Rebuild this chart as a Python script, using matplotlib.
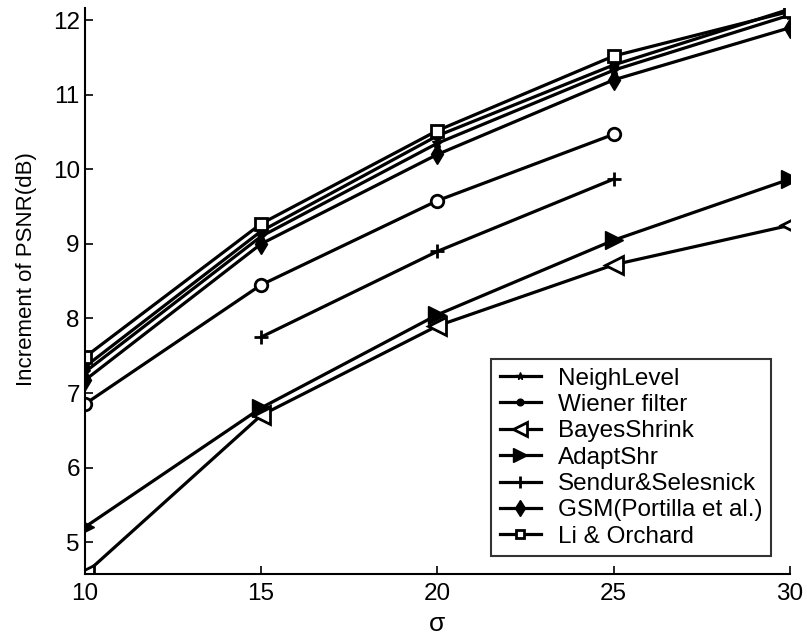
import numpy as np
import matplotlib.pyplot as plt

plt.rcParams['font.family'] = ['Liberation Sans', 'DejaVu Sans']

sigma = [10, 15, 20, 25, 30]

neigh = [7.28, 9.10, 10.35, 11.33, 12.07]
wiener = [7.35, 9.17, 10.45, 11.40, 12.15]
bayes = [4.57, 6.70, 7.90, 8.72, 9.25]
adapt = [5.20, 6.80, 8.05, 9.05, 9.87]
sendur = [np.nan, 7.75, 8.90, 9.87, np.nan]
gsm = [7.17, 9.00, 10.20, 11.20, 11.90]
li = [7.48, 9.27, 10.52, 11.52, 12.12]
circ = [6.85, 8.45, 9.58, 10.47, np.nan]  # not in legend

fig = plt.figure(figsize=(8.07, 6.38), dpi=100)
ax = fig.add_axes([0.105, 0.10, 0.874, 0.887])

lw = 2.3
ax.plot(sigma, circ, color='k', lw=lw, marker='o', ms=9, mfc='white', mew=2)
ax.plot(sigma, neigh, color='k', lw=lw, marker='*', ms=7, label='NeighLevel')
ax.plot(sigma, wiener, color='k', lw=lw, marker='o', ms=6, label='Wiener filter')
ax.plot(sigma, bayes, color='k', lw=lw, marker='<', ms=13, mfc='white', mew=2, label='BayesShrink')
ax.plot(sigma, adapt, color='k', lw=lw, marker='>', ms=13, label='AdaptShr')
ax.plot(sigma, sendur, color='k', lw=lw, marker='+', ms=10, mew=2, label='Sendur&Selesnick')
ax.plot(sigma, gsm, color='k', lw=lw, marker='d', ms=10, label='GSM(Portilla et al.)')
ax.plot(sigma, li, color='k', lw=lw, marker='s', ms=8, mfc='white', mew=2, label='Li & Orchard')

ax.set_xlim(10, 30)
ax.set_ylim(4.57, 12.16)
ax.set_xticks([10, 15, 20, 25, 30])
ax.set_yticks([5, 6, 7, 8, 9, 10, 11, 12])
ax.tick_params(direction='in', labelsize=17.5, length=6, width=1.2)
ax.tick_params(axis='x', pad=6)
ax.spines['top'].set_visible(False)
ax.spines['right'].set_visible(False)
ax.spines['left'].set_linewidth(1.5)
ax.spines['bottom'].set_linewidth(1.5)
ax.set_xlabel('σ', fontsize=19, labelpad=0)
ax.xaxis.set_label_coords(0.5, -0.066)
ax.set_ylabel('Increment of PSNR(dB)', fontsize=16)
ax.yaxis.set_label_coords(-0.068, 0.54)

leg = ax.legend(loc='lower right', fontsize=17.5, frameon=True, fancybox=False,
                edgecolor='k', handlelength=1.7, handletextpad=0.7,
                borderpad=0.35, labelspacing=0.18,
                bbox_to_anchor=(0.99, 0.01), markerscale=0.8)
leg.get_frame().set_linewidth(1.5)

fig.savefig('out.png', dpi=100)
